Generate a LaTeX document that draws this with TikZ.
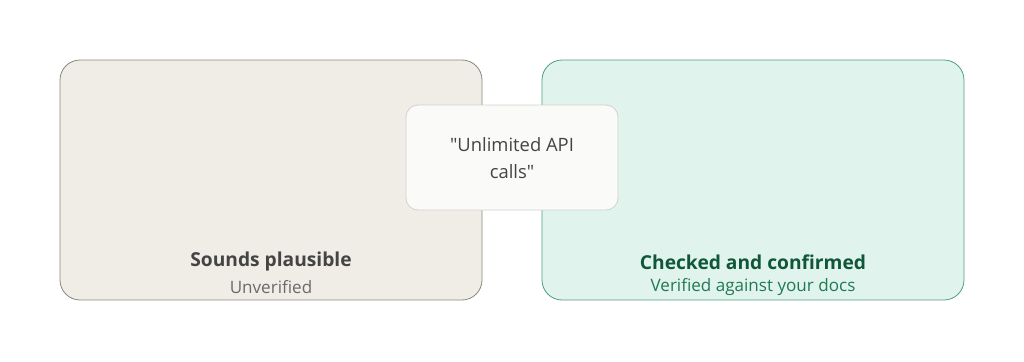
\documentclass[tikz,border=0pt]{standalone}
\usepackage{fontspec}
\setmainfont{Open Sans}[Ligatures=TeXOff]
\definecolor{sandfill}{HTML}{F0EDE6}
\definecolor{sanddraw}{HTML}{8A8780}
\definecolor{mintfill}{HTML}{E0F3EC}
\definecolor{mintdraw}{HTML}{4E9E80}
\definecolor{claimfill}{HTML}{FAFAF8}
\definecolor{claimdraw}{HTML}{D2D2CE}
\definecolor{darkgrey}{HTML}{444444}
\definecolor{midgrey}{HTML}{6A6A6A}
\definecolor{deepgreen}{HTML}{10573A}
\definecolor{leafgreen}{HTML}{217A56}
\tikzset{
  panel/.style={rounded corners=15pt,line width=0.6pt,minimum width=316.5pt,minimum height=180pt,inner sep=0pt},
  heading/.style={font=\fontsize{14.4}{17}\selectfont\bfseries},
  subline/.style={font=\fontsize{12.8}{15}\selectfont},
}
\begin{document}
\begin{tikzpicture}[x=0.75pt,y=-0.75pt]
\useasboundingbox (0,0) rectangle (1024,361);
% the two panels
\node[panel,fill=sandfill,draw=sanddraw] (plaus) at (271,180) {};
\node[panel,fill=mintfill,draw=mintdraw] (check) at (753,180) {};
\node[heading,text=darkgrey] (plaustitle) at (271,262) {Sounds plausible};
\node[subline,text=midgrey] (plaussub) at (271,287) {Unverified};
\node[heading,text=deepgreen] (checktitle) at (753,262) {Checked and confirmed};
\node[subline,text=leafgreen] (checksub) at (753,287) {Verified against your docs};
% the claim in between
\node[rounded corners=9pt,fill=claimfill,draw=claimdraw,line width=0.6pt,minimum width=159pt,minimum height=78.75pt] (claim) at (512,157.5) {};
\node[font=\fontsize{13.8}{20}\selectfont,text=darkgrey,align=center] (claimtext) at (512,158) {"Unlimited API\\calls"};
\end{tikzpicture}
\end{document}
